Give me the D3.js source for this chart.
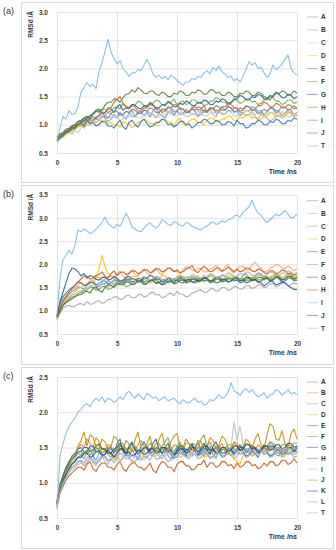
<!DOCTYPE html>
<html>
<head>
<meta charset="utf-8">
<script src="https://cdn.jsdelivr.net/npm/d3@7/dist/d3.min.js"></script>
<style>
  body { margin: 0; background: #fff; }
  svg text { font-family: "Liberation Sans", Arial, sans-serif; }
</style>
</head>
<body>
<svg id="chart" width="336" height="550"></svg>
<script>
var time_ns = [0,0.25,0.5,0.75,1,1.25,1.5,1.75,2,2.25,
  2.5,2.75,3,3.25,3.5,3.75,4,4.25,4.5,4.75,
  5,5.25,5.5,5.75,6,6.25,6.5,6.75,7,7.25,
  7.5,7.75,8,8.25,8.5,8.75,9,9.25,9.5,9.75,
  10,10.25,10.5,10.75,11,11.25,11.5,11.75,12,12.25,
  12.5,12.75,13,13.25,13.5,13.75,14,14.25,14.5,14.75,
  15,15.25,15.5,15.75,16,16.25,16.5,16.75,17,17.25,
  17.5,17.75,18,18.25,18.5,18.75,19,19.25,19.5,19.75,
  20];
var x_ticks = [0, 5, 10, 15, 20];

// panel (a)
var a_names = ["A","B","C","D","E","F","G","H","I","J","T"];
var a_ticks = [0.5, 1.0, 1.5, 2.0, 2.5, 3.0];
var a_A = [0.75,0.80,0.84,0.90,0.88,0.95,0.93,1.00,1.04,0.98,
  1.08,1.02,1.05,1.12,1.08,1.16,1.12,1.06,1.10,1.18,
  1.14,1.22,1.15,1.10,1.20,1.26,1.14,1.20,1.24,1.16,
  1.22,1.14,1.25,1.30,1.20,1.16,1.12,1.22,1.26,1.18,
  1.25,1.18,1.20,1.28,1.22,1.30,1.24,1.16,1.18,1.26,
  1.24,1.30,1.28,1.20,1.22,1.32,1.26,1.34,1.30,1.22,
  1.24,1.16,1.20,1.26,1.24,1.32,1.30,1.24,1.25,1.18,
  1.22,1.30,1.28,1.20,1.24,1.16,1.20,1.28,1.26,1.18,
  1.22];
var a_B = [0.70,0.76,0.80,0.86,0.88,0.84,0.92,0.98,1.00,0.96,
  1.05,1.10,1.10,1.04,1.08,1.14,1.15,1.22,1.20,1.14,
  1.12,1.18,1.18,1.24,1.22,1.14,1.16,1.22,1.20,1.26,
  1.25,1.20,1.18,1.12,1.22,1.26,1.28,1.22,1.20,1.16,
  1.25,1.30,1.18,1.22,1.24,1.18,1.20,1.14,1.26,1.22,
  1.22,1.28,1.18,1.14,1.25,1.20,1.20,1.26,1.24,1.30,
  1.28,1.22,1.22,1.16,1.18,1.24,1.15,1.10,1.20,1.16,
  1.12,1.06,1.10,1.16,1.18,1.12,1.15,1.22,1.20,1.14,
  1.18];
var a_C = [0.68,0.74,0.78,0.82,0.85,0.90,0.90,0.86,0.95,1.00,
  1.02,0.98,1.05,1.10,1.10,1.04,1.08,1.14,1.12,1.16,
  1.15,1.08,1.10,1.16,1.14,1.20,1.18,1.12,1.12,1.18,
  1.15,1.22,1.20,1.14,1.14,1.20,1.18,1.24,1.22,1.16,
  1.16,1.22,1.20,1.14,1.15,1.20,1.18,1.24,1.22,1.16,
  1.16,1.22,1.20,1.26,1.24,1.18,1.18,1.24,1.22,1.16,
  1.15,1.20,1.20,1.26,1.24,1.18,1.18,1.24,1.20,1.14,
  1.16,1.22,1.22,1.16,1.18,1.24,1.20,1.14,1.15,1.20,
  1.18];
var a_D = [0.72,0.78,0.80,0.84,0.86,0.90,0.92,0.96,0.98,0.94,
  1.00,1.04,1.05,0.98,1.02,1.08,1.08,1.02,1.04,0.98,
  1.00,0.96,1.06,1.02,1.02,0.95,0.98,1.05,1.05,1.10,
  1.08,1.02,1.02,0.98,1.06,1.10,1.10,1.04,1.04,0.98,
  1.08,1.12,1.02,0.98,1.06,1.10,1.10,1.04,1.04,1.00,
  1.08,1.12,1.12,1.06,1.06,1.10,1.10,1.16,1.14,1.08,
  1.08,1.14,1.12,1.18,1.18,1.12,1.14,1.08,1.10,1.16,
  1.16,1.22,1.20,1.14,1.14,1.20,1.18,1.24,1.22,1.16,
  1.16];
var a_E = [0.74,0.80,0.82,0.86,0.88,0.92,0.94,1.00,1.02,0.98,
  1.08,1.02,1.04,0.98,1.00,1.06,1.05,0.98,0.98,0.94,
  1.02,1.08,0.96,0.92,1.04,1.08,1.00,0.96,1.06,1.10,
  1.02,0.96,0.98,1.04,1.04,1.10,1.08,1.00,1.02,0.96,
  1.00,1.06,1.06,1.00,1.02,0.94,0.98,1.04,1.04,1.10,
  1.08,1.02,1.02,1.08,1.06,1.00,1.00,1.06,1.04,0.98,
  1.08,1.02,1.02,0.94,0.96,1.02,1.02,1.08,1.06,1.00,
  1.00,1.06,1.04,1.10,1.08,1.02,1.02,1.08,1.06,1.12,
  1.10];
var a_F = [0.76,0.82,0.85,0.88,0.92,0.98,1.00,1.06,1.06,1.02,
  1.12,1.16,1.18,1.24,1.22,1.28,1.28,1.22,1.25,1.30,
  1.32,1.28,1.38,1.34,1.30,1.36,1.35,1.42,1.40,1.34,
  1.34,1.40,1.38,1.44,1.42,1.36,1.36,1.42,1.40,1.46,
  1.35,1.40,1.42,1.36,1.38,1.44,1.44,1.38,1.40,1.34,
  1.36,1.42,1.42,1.48,1.46,1.40,1.40,1.36,1.38,1.44,
  1.44,1.38,1.40,1.46,1.46,1.40,1.42,1.36,1.38,1.44,
  1.44,1.50,1.48,1.42,1.42,1.36,1.38,1.44,1.44,1.38,
  1.40];
var a_G = [0.78,0.84,0.86,0.92,0.94,0.98,1.00,1.06,1.08,1.12,
  1.15,1.10,1.20,1.24,1.25,1.20,1.22,1.28,1.28,1.22,
  1.32,1.36,1.26,1.30,1.30,1.36,1.35,1.30,1.28,1.34,
  1.32,1.38,1.36,1.30,1.30,1.36,1.34,1.40,1.38,1.32,
  1.32,1.38,1.36,1.42,1.40,1.34,1.34,1.40,1.38,1.44,
  1.42,1.36,1.36,1.42,1.40,1.46,1.44,1.38,1.40,1.46,
  1.46,1.52,1.50,1.44,1.44,1.50,1.48,1.54,1.52,1.46,
  1.46,1.52,1.50,1.56,1.54,1.48,1.48,1.54,1.52,1.46,
  1.50];
var a_H = [0.74,0.80,0.84,0.88,0.92,0.96,0.98,1.02,1.04,1.10,
  1.12,1.06,1.08,1.14,1.15,1.22,1.20,1.30,1.30,1.40,
  1.45,1.50,1.38,1.30,1.28,1.34,1.32,1.24,1.25,1.30,
  1.30,1.36,1.34,1.28,1.28,1.22,1.24,1.30,1.30,1.36,
  1.35,1.28,1.28,1.22,1.24,1.30,1.32,1.26,1.28,1.34,
  1.22,1.28,1.30,1.24,1.26,1.32,1.32,1.38,1.36,1.30,
  1.30,1.24,1.26,1.32,1.32,1.26,1.28,1.34,1.34,1.40,
  1.38,1.32,1.32,1.38,1.36,1.30,1.30,1.36,1.34,1.28,
  1.30];
var a_I = [0.72,0.76,0.80,0.86,0.90,0.94,0.96,1.00,1.02,1.06,
  1.10,1.14,1.14,1.10,1.18,1.22,1.15,1.12,1.20,1.24,
  1.24,1.18,1.18,1.24,1.22,1.28,1.26,1.20,1.20,1.26,
  1.24,1.30,1.28,1.22,1.22,1.28,1.26,1.32,1.30,1.24,
  1.24,1.30,1.28,1.22,1.22,1.28,1.26,1.32,1.30,1.24,
  1.24,1.30,1.28,1.34,1.32,1.26,1.26,1.32,1.30,1.24,
  1.24,1.30,1.28,1.34,1.32,1.26,1.26,1.20,1.22,1.28,
  1.24,1.30,1.30,1.24,1.26,1.32,1.32,1.26,1.28,1.34,
  1.28];
var a_J = [0.72,0.78,0.82,0.86,0.90,0.94,0.96,1.00,1.05,1.08,
  1.12,1.16,1.20,1.26,1.28,1.24,1.35,1.40,1.40,1.46,
  1.45,1.40,1.48,1.54,1.55,1.62,1.58,1.66,1.62,1.56,
  1.55,1.60,1.60,1.54,1.52,1.58,1.56,1.50,1.50,1.56,
  1.54,1.60,1.58,1.52,1.52,1.58,1.56,1.62,1.60,1.54,
  1.55,1.62,1.62,1.56,1.58,1.52,1.52,1.58,1.56,1.50,
  1.50,1.56,1.55,1.60,1.58,1.52,1.52,1.58,1.56,1.50,
  1.48,1.44,1.52,1.58,1.55,1.60,1.58,1.52,1.54,1.60,
  1.56];
var a_T = [0.72,0.95,1.15,1.10,1.25,1.18,1.20,1.32,1.58,1.66,
  1.75,1.68,1.72,1.64,1.95,2.10,2.30,2.52,2.28,2.18,
  2.08,2.14,2.00,1.94,1.86,1.92,1.92,1.98,1.96,2.06,
  2.16,2.05,1.90,1.84,1.88,1.82,1.86,1.80,1.88,1.84,
  1.79,1.74,1.70,1.76,1.76,1.82,1.80,1.86,1.84,1.92,
  1.96,1.90,2.02,1.96,2.04,1.94,1.90,1.84,1.86,1.78,
  1.82,1.76,1.86,1.98,2.12,2.06,2.10,2.00,2.02,1.92,
  1.84,1.90,2.06,1.98,2.02,2.08,2.16,2.24,2.00,1.92,
  1.88];

// panel (b)
var b_names = ["A","B","C","D","E","F","G","H","I","J","T"];
var b_ticks = [0.5, 1.0, 1.5, 2.0, 2.5, 3.0, 3.5];
var b_A = [0.85,1.05,1.20,1.28,1.35,1.42,1.45,1.52,1.50,1.46,
  1.55,1.60,1.60,1.54,1.52,1.58,1.58,1.64,1.62,1.56,
  1.66,1.60,1.60,1.66,1.64,1.70,1.68,1.62,1.62,1.68,
  1.70,1.64,1.66,1.72,1.72,1.66,1.68,1.62,1.64,1.70,
  1.70,1.76,1.74,1.68,1.68,1.74,1.72,1.66,1.66,1.72,
  1.70,1.76,1.75,1.68,1.70,1.76,1.74,1.68,1.68,1.74,
  1.72,1.66,1.76,1.80,1.70,1.66,1.74,1.80,1.78,1.72,
  1.72,1.68,1.76,1.80,1.70,1.66,1.74,1.80,1.78,1.72,
  1.74];
var b_B = [0.90,1.10,1.25,1.32,1.40,1.46,1.50,1.56,1.62,1.56,
  1.58,1.64,1.65,1.72,1.72,1.66,1.68,1.74,1.75,1.70,
  1.80,1.86,1.74,1.70,1.82,1.88,1.78,1.74,1.85,1.90,
  1.80,1.76,1.88,1.92,1.82,1.78,1.86,1.92,1.92,1.86,
  1.85,1.80,1.88,1.94,1.94,1.88,1.86,1.92,1.90,1.84,
  1.84,1.90,1.92,1.98,1.88,1.84,1.95,2.00,1.86,1.82,
  1.90,1.96,1.96,1.88,1.88,1.98,2.05,1.96,1.90,1.84,
  1.86,1.92,1.94,2.00,1.98,1.92,1.90,1.96,1.92,1.86,
  1.92];
var b_C = [0.80,0.95,1.05,1.10,1.12,1.08,1.10,1.14,1.16,1.12,
  1.20,1.14,1.15,1.20,1.22,1.16,1.18,1.24,1.25,1.30,
  1.30,1.24,1.26,1.32,1.34,1.28,1.28,1.34,1.36,1.30,
  1.32,1.38,1.40,1.34,1.35,1.28,1.30,1.36,1.38,1.32,
  1.42,1.36,1.36,1.30,1.32,1.38,1.40,1.44,1.45,1.40,
  1.40,1.46,1.48,1.42,1.44,1.50,1.50,1.44,1.46,1.52,
  1.52,1.46,1.48,1.54,1.54,1.48,1.50,1.56,1.56,1.50,
  1.52,1.58,1.58,1.52,1.54,1.60,1.60,1.54,1.56,1.60,
  1.58];
var b_D = [0.82,1.00,1.15,1.22,1.30,1.36,1.42,1.48,1.50,1.56,
  1.60,1.54,1.55,1.70,1.90,2.20,1.95,1.80,1.75,1.68,
  1.70,1.64,1.62,1.68,1.68,1.74,1.74,1.68,1.66,1.72,
  1.72,1.66,1.64,1.70,1.70,1.76,1.76,1.70,1.68,1.62,
  1.72,1.78,1.66,1.70,1.74,1.68,1.70,1.76,1.66,1.62,
  1.72,1.78,1.68,1.72,1.74,1.68,1.70,1.76,1.76,1.70,
  1.72,1.66,1.68,1.74,1.74,1.68,1.70,1.76,1.76,1.70,
  1.68,1.74,1.74,1.80,1.78,1.72,1.72,1.78,1.76,1.70,
  1.76];
var b_E = [0.88,1.15,1.30,1.38,1.45,1.50,1.55,1.62,1.60,1.54,
  1.56,1.62,1.62,1.56,1.58,1.64,1.64,1.58,1.60,1.66,
  1.66,1.60,1.62,1.68,1.68,1.62,1.64,1.70,1.68,1.62,
  1.65,1.60,1.70,1.66,1.62,1.56,1.64,1.70,1.66,1.60,
  1.66,1.62,1.60,1.66,1.68,1.62,1.64,1.70,1.70,1.64,
  1.66,1.60,1.62,1.68,1.68,1.62,1.64,1.70,1.70,1.64,
  1.66,1.60,1.62,1.68,1.70,1.64,1.66,1.72,1.72,1.66,
  1.72,1.66,1.68,1.74,1.68,1.62,1.64,1.70,1.70,1.64,
  1.66];
var b_F = [0.85,0.98,1.10,1.18,1.25,1.30,1.32,1.36,1.40,1.44,
  1.45,1.50,1.50,1.44,1.46,1.52,1.52,1.46,1.48,1.54,
  1.54,1.60,1.58,1.52,1.54,1.60,1.60,1.66,1.62,1.56,
  1.58,1.64,1.64,1.58,1.60,1.66,1.66,1.60,1.62,1.68,
  1.64,1.70,1.68,1.62,1.64,1.70,1.70,1.64,1.66,1.72,
  1.68,1.62,1.64,1.70,1.70,1.64,1.66,1.72,1.70,1.64,
  1.74,1.68,1.70,1.64,1.66,1.72,1.72,1.66,1.68,1.74,
  1.74,1.68,1.70,1.76,1.74,1.68,1.68,1.74,1.72,1.66,
  1.74];
var b_G = [0.90,1.20,1.40,1.60,1.80,1.92,1.90,1.84,1.75,1.80,
  1.70,1.76,1.74,1.68,1.66,1.72,1.72,1.66,1.68,1.74,
  1.70,1.64,1.66,1.72,1.74,1.68,1.68,1.62,1.65,1.72,
  1.70,1.76,1.74,1.68,1.68,1.62,1.64,1.70,1.70,1.64,
  1.66,1.72,1.70,1.64,1.68,1.62,1.60,1.66,1.66,1.72,
  1.70,1.64,1.66,1.72,1.72,1.66,1.68,1.62,1.64,1.70,
  1.70,1.64,1.66,1.60,1.62,1.68,1.68,1.62,1.60,1.54,
  1.58,1.64,1.62,1.56,1.58,1.62,1.60,1.54,1.50,1.46,
  1.46];
var b_H = [0.88,1.05,1.20,1.30,1.40,1.48,1.55,1.62,1.68,1.74,
  1.75,1.68,1.70,1.76,1.78,1.84,1.74,1.70,1.80,1.86,
  1.76,1.82,1.84,1.78,1.80,1.86,1.86,1.80,1.82,1.88,
  1.88,1.82,1.84,1.90,1.90,1.84,1.86,1.92,1.90,1.84,
  1.88,1.82,1.84,1.90,1.92,1.98,1.86,1.82,1.90,1.96,
  1.90,1.84,1.86,1.92,1.92,1.86,1.88,1.94,1.90,1.84,
  1.90,1.84,1.86,1.92,1.92,1.86,1.84,1.90,1.88,1.82,
  1.80,1.86,1.86,1.80,1.82,1.88,1.86,1.80,1.82,1.76,
  1.80];
var b_I = [0.84,1.00,1.15,1.22,1.28,1.34,1.36,1.42,1.42,1.48,
  1.48,1.54,1.52,1.46,1.58,1.62,1.54,1.50,1.60,1.64,
  1.64,1.58,1.58,1.64,1.62,1.68,1.66,1.60,1.70,1.74,
  1.64,1.60,1.68,1.74,1.72,1.66,1.66,1.72,1.70,1.64,
  1.74,1.68,1.68,1.74,1.72,1.78,1.76,1.70,1.70,1.76,
  1.74,1.80,1.78,1.72,1.72,1.78,1.76,1.82,1.80,1.74,
  1.74,1.80,1.78,1.84,1.82,1.76,1.76,1.82,1.80,1.74,
  1.78,1.84,1.82,1.76,1.76,1.82,1.80,1.86,1.84,1.78,
  1.84];
var b_J = [0.86,1.00,1.12,1.18,1.22,1.26,1.30,1.34,1.35,1.40,
  1.42,1.38,1.48,1.52,1.44,1.40,1.50,1.56,1.55,1.50,
  1.60,1.56,1.56,1.62,1.62,1.56,1.58,1.64,1.64,1.58,
  1.60,1.66,1.66,1.60,1.62,1.56,1.58,1.64,1.64,1.58,
  1.60,1.66,1.66,1.60,1.62,1.68,1.68,1.62,1.64,1.70,
  1.70,1.64,1.66,1.60,1.62,1.68,1.68,1.62,1.64,1.70,
  1.70,1.64,1.66,1.72,1.72,1.66,1.68,1.62,1.64,1.70,
  1.70,1.64,1.66,1.72,1.72,1.66,1.68,1.74,1.74,1.68,
  1.70];
var b_T = [0.90,1.70,2.10,2.20,2.30,2.22,2.42,2.74,2.70,2.76,
  2.72,2.66,2.70,2.76,2.82,2.90,3.02,2.88,2.82,2.78,
  2.86,2.82,2.95,3.10,2.98,2.80,2.76,2.72,2.70,2.78,
  2.85,2.90,2.82,2.78,2.84,2.96,2.92,2.86,2.84,2.92,
  2.90,2.84,2.82,2.90,2.88,2.82,2.80,2.76,2.74,2.80,
  2.82,2.88,2.92,2.86,2.88,2.94,2.90,2.96,2.98,3.04,
  3.06,3.02,3.12,3.18,3.24,3.38,3.22,3.10,3.06,2.96,
  2.90,2.96,3.02,3.08,3.04,3.10,3.16,3.08,3.00,3.02,
  3.08];

// panel (c)
var c_names = ["A","B","C","D","E","F","G","H","I","J","K","L","T"];
var c_ticks = [0.5, 1.0, 1.5, 2.0, 2.5];
var c_A = [0.70,0.92,1.05,1.18,1.25,1.32,1.35,1.42,1.40,1.34,
  1.45,1.50,1.38,1.32,1.42,1.48,1.48,1.40,1.36,1.44,
  1.44,1.52,1.50,1.42,1.38,1.46,1.40,1.34,1.46,1.50,
  1.48,1.40,1.38,1.46,1.42,1.50,1.46,1.38,1.34,1.42,
  1.48,1.42,1.40,1.48,1.45,1.38,1.50,1.56,1.42,1.38,
  1.46,1.52,1.40,1.36,1.44,1.50,1.48,1.42,1.38,1.46,
  1.46,1.52,1.50,1.42,1.44,1.38,1.40,1.48,1.46,1.40,
  1.42,1.48,1.48,1.40,1.38,1.46,1.46,1.40,1.42,1.48,
  1.42];
var c_B = [0.75,0.95,1.10,1.20,1.28,1.36,1.40,1.48,1.55,1.50,
  1.62,1.56,1.50,1.64,1.58,1.48,1.45,1.54,1.52,1.44,
  1.48,1.56,1.56,1.48,1.50,1.44,1.46,1.54,1.60,1.52,
  1.52,1.46,1.48,1.56,1.55,1.48,1.50,1.42,1.46,1.54,
  1.52,1.46,1.48,1.56,1.56,1.48,1.50,1.58,1.46,1.42,
  1.52,1.58,1.48,1.44,1.50,1.56,1.44,1.40,1.50,1.56,
  1.52,1.46,1.48,1.56,1.54,1.46,1.46,1.54,1.50,1.44,
  1.48,1.56,1.55,1.48,1.50,1.44,1.46,1.54,1.52,1.46,
  1.52];
var c_C = [0.68,0.88,1.00,1.10,1.18,1.22,1.25,1.30,1.30,1.24,
  1.28,1.34,1.34,1.28,1.30,1.36,1.36,1.30,1.32,1.38,
  1.38,1.32,1.34,1.40,1.36,1.30,1.30,1.36,1.32,1.38,
  1.36,1.42,1.40,1.34,1.34,1.40,1.36,1.30,1.32,1.38,
  1.38,1.44,1.42,1.36,1.34,1.40,1.40,1.34,1.36,1.42,
  1.42,1.36,1.38,1.44,1.42,1.36,1.38,1.44,1.40,1.34,
  1.38,1.44,1.42,1.36,1.38,1.44,1.42,1.36,1.44,1.50,
  1.42,1.36,1.38,1.44,1.42,1.36,1.38,1.44,1.42,1.36,
  1.38];
var c_D = [0.72,0.95,1.08,1.18,1.25,1.32,1.38,1.44,1.45,1.38,
  1.40,1.48,1.46,1.54,1.52,1.44,1.44,1.50,1.38,1.32,
  1.38,1.46,1.46,1.40,1.42,1.50,1.50,1.42,1.44,1.36,
  1.36,1.44,1.44,1.38,1.40,1.48,1.48,1.40,1.42,1.36,
  1.36,1.44,1.44,1.38,1.40,1.48,1.48,1.40,1.42,1.36,
  1.38,1.46,1.46,1.40,1.42,1.48,1.48,1.42,1.40,1.34,
  1.30,1.26,1.38,1.44,1.44,1.38,1.40,1.46,1.46,1.40,
  1.42,1.48,1.48,1.42,1.44,1.38,1.40,1.46,1.46,1.40,
  1.42];
var c_E = [0.74,0.98,1.10,1.22,1.30,1.38,1.42,1.48,1.50,1.44,
  1.44,1.52,1.52,1.44,1.46,1.40,1.40,1.48,1.48,1.42,
  1.55,1.62,1.44,1.38,1.50,1.56,1.46,1.40,1.52,1.58,
  1.48,1.42,1.44,1.50,1.48,1.42,1.44,1.50,1.40,1.34,
  1.48,1.54,1.44,1.38,1.50,1.56,1.46,1.40,1.42,1.48,
  1.48,1.42,1.44,1.50,1.44,1.38,1.38,1.46,1.46,1.40,
  1.48,1.54,1.44,1.38,1.40,1.46,1.42,1.36,1.48,1.54,
  1.44,1.38,1.40,1.46,1.46,1.40,1.42,1.48,1.50,1.44,
  1.46];
var c_F = [0.70,0.92,1.05,1.15,1.22,1.28,1.32,1.36,1.40,1.44,
  1.46,1.40,1.42,1.48,1.48,1.42,1.44,1.50,1.50,1.44,
  1.46,1.52,1.52,1.46,1.48,1.54,1.52,1.46,1.44,1.50,
  1.50,1.56,1.52,1.46,1.46,1.52,1.58,1.64,1.50,1.44,
  1.52,1.58,1.48,1.44,1.50,1.56,1.54,1.48,1.62,1.68,
  1.50,1.44,1.46,1.52,1.52,1.46,1.48,1.54,1.54,1.48,
  1.46,1.52,1.52,1.46,1.48,1.54,1.50,1.44,1.46,1.52,
  1.52,1.58,1.56,1.50,1.48,1.54,1.54,1.48,1.50,1.56,
  1.56];
var c_G = [0.72,0.96,1.08,1.20,1.28,1.34,1.38,1.44,1.44,1.50,
  1.50,1.44,1.46,1.52,1.55,1.48,1.48,1.42,1.42,1.48,
  1.50,1.56,1.46,1.40,1.52,1.58,1.48,1.42,1.44,1.50,
  1.50,1.44,1.56,1.62,1.48,1.42,1.50,1.56,1.44,1.38,
  1.46,1.52,1.52,1.46,1.48,1.54,1.44,1.38,1.50,1.56,
  1.46,1.40,1.52,1.58,1.48,1.42,1.42,1.48,1.48,1.42,
  1.44,1.50,1.50,1.44,1.46,1.52,1.48,1.42,1.44,1.50,
  1.46,1.52,1.52,1.46,1.48,1.42,1.44,1.50,1.50,1.44,
  1.50];
var c_H = [0.65,0.85,0.95,1.04,1.10,1.14,1.18,1.22,1.22,1.18,
  1.26,1.30,1.20,1.16,1.24,1.28,1.28,1.22,1.22,1.18,
  1.26,1.30,1.20,1.16,1.24,1.28,1.28,1.22,1.22,1.18,
  1.22,1.28,1.18,1.14,1.24,1.30,1.28,1.22,1.22,1.16,
  1.26,1.30,1.30,1.24,1.24,1.18,1.20,1.26,1.26,1.32,
  1.22,1.28,1.28,1.22,1.24,1.30,1.30,1.24,1.26,1.20,
  1.28,1.22,1.24,1.30,1.30,1.24,1.26,1.20,1.22,1.28,
  1.24,1.30,1.30,1.24,1.26,1.32,1.32,1.26,1.28,1.34,
  1.28];
var c_I = [0.66,0.88,1.00,1.08,1.15,1.18,1.22,1.26,1.28,1.24,
  1.32,1.36,1.28,1.24,1.34,1.38,1.30,1.26,1.36,1.40,
  1.32,1.28,1.38,1.42,1.34,1.30,1.40,1.44,1.36,1.32,
  1.36,1.42,1.40,1.34,1.34,1.40,1.38,1.44,1.42,1.36,
  1.42,1.36,1.38,1.44,1.44,1.38,1.40,1.46,1.46,1.40,
  1.42,1.48,1.38,1.34,1.44,1.50,1.50,1.44,1.50,1.86,
  1.60,1.80,1.55,1.45,1.45,1.52,1.42,1.38,1.44,1.50,
  1.46,1.40,1.42,1.48,1.48,1.42,1.44,1.50,1.46,1.40,
  1.46];
var c_J = [0.72,0.95,1.05,1.18,1.25,1.34,1.40,1.52,1.60,1.72,
  1.52,1.68,1.65,1.50,1.48,1.62,1.58,1.48,1.52,1.66,
  1.62,1.48,1.46,1.60,1.55,1.44,1.60,1.72,1.50,1.46,
  1.56,1.66,1.48,1.42,1.62,1.70,1.52,1.46,1.58,1.66,
  1.70,1.52,1.50,1.62,1.56,1.46,1.48,1.60,1.58,1.48,
  1.52,1.64,1.60,1.48,1.54,1.66,1.62,1.50,1.48,1.58,
  1.56,1.46,1.48,1.62,1.58,1.48,1.62,1.70,1.54,1.48,
  1.68,1.84,1.80,1.62,1.60,1.74,1.55,1.50,1.70,1.76,
  1.62];
var c_K = [0.70,0.90,1.02,1.12,1.20,1.26,1.30,1.36,1.36,1.42,
  1.42,1.36,1.38,1.44,1.44,1.38,1.40,1.46,1.42,1.36,
  1.42,1.48,1.48,1.42,1.44,1.38,1.40,1.46,1.46,1.40,
  1.42,1.48,1.48,1.42,1.44,1.50,1.50,1.44,1.46,1.40,
  1.42,1.48,1.48,1.42,1.44,1.50,1.50,1.44,1.46,1.52,
  1.52,1.46,1.48,1.42,1.44,1.50,1.50,1.44,1.46,1.52,
  1.52,1.46,1.48,1.54,1.54,1.48,1.50,1.44,1.46,1.52,
  1.52,1.46,1.48,1.54,1.54,1.48,1.50,1.56,1.56,1.50,
  1.52];
var c_L = [0.68,0.88,1.00,1.08,1.15,1.22,1.25,1.30,1.32,1.28,
  1.36,1.40,1.30,1.26,1.34,1.38,1.38,1.32,1.34,1.28,
  1.36,1.42,1.40,1.34,1.34,1.40,1.38,1.32,1.42,1.46,
  1.36,1.32,1.40,1.44,1.38,1.34,1.42,1.46,1.44,1.38,
  1.36,1.42,1.42,1.36,1.38,1.44,1.44,1.38,1.40,1.46,
  1.40,1.34,1.36,1.42,1.42,1.36,1.38,1.44,1.44,1.38,
  1.46,1.40,1.42,1.48,1.48,1.42,1.40,1.46,1.46,1.40,
  1.44,1.50,1.50,1.44,1.42,1.48,1.48,1.42,1.44,1.50,
  1.46];
var c_T = [0.62,1.38,1.55,1.70,1.80,1.86,1.92,2.00,2.04,2.10,
  2.12,2.08,2.15,2.20,2.16,2.22,2.14,2.20,2.18,2.14,
  2.17,2.22,2.18,2.26,2.30,2.24,2.20,2.26,2.22,2.18,
  2.27,2.24,2.20,2.22,2.16,2.20,2.22,2.16,2.18,2.20,
  2.15,2.12,2.18,2.14,2.13,2.17,2.20,2.14,2.16,2.10,
  2.12,2.18,2.16,2.20,2.25,2.20,2.22,2.28,2.42,2.30,
  2.28,2.24,2.30,2.34,2.28,2.32,2.26,2.22,2.24,2.28,
  2.20,2.24,2.26,2.32,2.30,2.24,2.28,2.32,2.26,2.28,
  2.25];

var svg = d3.select("#chart");
var plot_left = 57, plot_right = 297;

function draw_panel(p) {
  var g = svg.append("g");

  // frame round the panel
  g.append("rect").attr("x", 21.5).attr("y", p.frame_top + 0.5)
    .attr("width", 312).attr("height", p.frame_bottom - p.frame_top)
    .attr("fill", "#fff").attr("stroke", "#d9d9d9").attr("stroke-width", 1);

  g.append("text").attr("x", 3).attr("y", p.plot_top + 2)
    .attr("font-size", 9).attr("fill", "#333").text(p.label);

  var x = d3.scaleLinear().domain([0, 20]).range([plot_left, plot_right]);
  var y = d3.scaleLinear().domain([0.5, p.ticks[p.ticks.length - 1]])
    .range([p.plot_bottom, p.plot_top]);

  // grid
  g.append("g").attr("transform", "translate(" + plot_left + ",0)")
    .call(d3.axisLeft(y).tickValues(p.ticks).tickSize(-(plot_right - plot_left)).tickFormat(""))
    .call(function(s) { s.select(".domain").remove(); })
    .selectAll("line").attr("stroke", "#e3e3e3");
  g.append("g").attr("transform", "translate(0," + p.plot_bottom + ")")
    .call(d3.axisBottom(x).tickValues(x_ticks).tickSize(-(p.plot_bottom - p.plot_top)).tickFormat(""))
    .call(function(s) { s.select(".domain").remove(); })
    .selectAll("line").attr("stroke", "#e3e3e3");

  // tick labels
  var y_axis = g.append("g").attr("transform", "translate(" + (plot_left - 6) + ",0)")
    .call(d3.axisLeft(y).tickValues(p.ticks).tickSize(0).tickFormat(d3.format(".1f")));
  y_axis.select(".domain").remove();
  y_axis.selectAll("text").attr("font-size", 6.5).attr("font-weight", "bold")
    .attr("fill", "#404040").attr("font-family", "\"Liberation Sans\", Arial, sans-serif");

  var x_axis = g.append("g").attr("transform", "translate(0," + (p.plot_bottom + 4) + ")")
    .call(d3.axisBottom(x).tickValues(x_ticks).tickSize(0).tickFormat(d3.format("d")));
  x_axis.select(".domain").remove();
  x_axis.selectAll("text").attr("font-size", 6.5).attr("font-weight", "bold")
    .attr("fill", "#404040").attr("font-family", "\"Liberation Sans\", Arial, sans-serif");

  g.append("text").attr("x", plot_right).attr("y", p.plot_bottom + 21)
    .attr("text-anchor", "end").attr("font-size", 7).attr("font-weight", "bold")
    .attr("fill", "#333").text("Time /ns");

  g.append("text").attr("transform", "translate(33," + (p.plot_top - 1) + ") rotate(-90)")
    .attr("text-anchor", "end").attr("font-size", 6.5).attr("font-weight", "bold")
    .attr("fill", "#333").text("RMSd /Å");

  var line = d3.line().x(function(d, i) { return x(time_ns[i]); })
    .y(function(d) { return y(d); });

  for (var i = 0; i < p.series.length; i++) {
    g.append("path").datum(p.series[i]).attr("d", line)
      .attr("fill", "none").attr("stroke", p.colors[i])
      .attr("stroke-width", 1.1).attr("stroke-opacity", 0.9)
      .attr("stroke-linejoin", "round");
  }

  // legend
  for (i = 0; i < p.names.length; i++) {
    var ly = p.legend_top + i * p.legend_step;
    g.append("line").attr("x1", 307).attr("x2", 318).attr("y1", ly).attr("y2", ly)
      .attr("stroke", p.colors[i]).attr("stroke-opacity", 0.55).attr("stroke-width", 1);
    g.append("text").attr("x", 321).attr("y", ly + 2.3)
      .attr("font-size", 6.5).attr("font-weight", "bold").attr("fill", "#333")
      .text(p.names[i]);
  }
}

draw_panel({
  label: "(a)", frame_top: 2, frame_bottom: 182, plot_top: 12, plot_bottom: 153,
  ticks: a_ticks, names: a_names, legend_top: 17, legend_step: 12.9,
  series: [a_A, a_B, a_C, a_D, a_E, a_F, a_G, a_H, a_I, a_J, a_T],
  colors: ["#5B9BD5","#A5A5A5","#C9C9C9","#FFC000","#2E75B6","#70AD47","#255E91","#D0631C","#7F7F7F","#548235","#7FB8E6"]
});

draw_panel({
  label: "(b)", frame_top: 185, frame_bottom: 364, plot_top: 194.7, plot_bottom: 334,
  ticks: b_ticks, names: b_names, legend_top: 200.7, legend_step: 12.75,
  series: [b_A, b_B, b_C, b_D, b_E, b_F, b_G, b_H, b_I, b_J, b_T],
  colors: ["#5B9BD5","#F4A46B","#A5A5A5","#FFC000","#2E75B6","#70AD47","#255E91","#C55A11","#B0B0B0","#43682B","#7FB8E6"]
});

draw_panel({
  label: "(c)", frame_top: 367, frame_bottom: 548, plot_top: 377, plot_bottom: 518,
  ticks: c_ticks, names: c_names, legend_top: 382, legend_step: 10.9,
  series: [c_A, c_B, c_C, c_D, c_E, c_F, c_G, c_H, c_I, c_J, c_K, c_L, c_T],
  colors: ["#5B9BD5","#ED7D31","#A5A5A5","#FFC000","#2E75B6","#70AD47","#255E91","#C55A11","#BDBDBD","#BF9000","#264478","#8FAADC","#7FB8E6"]
});
</script>
</body>
</html>
